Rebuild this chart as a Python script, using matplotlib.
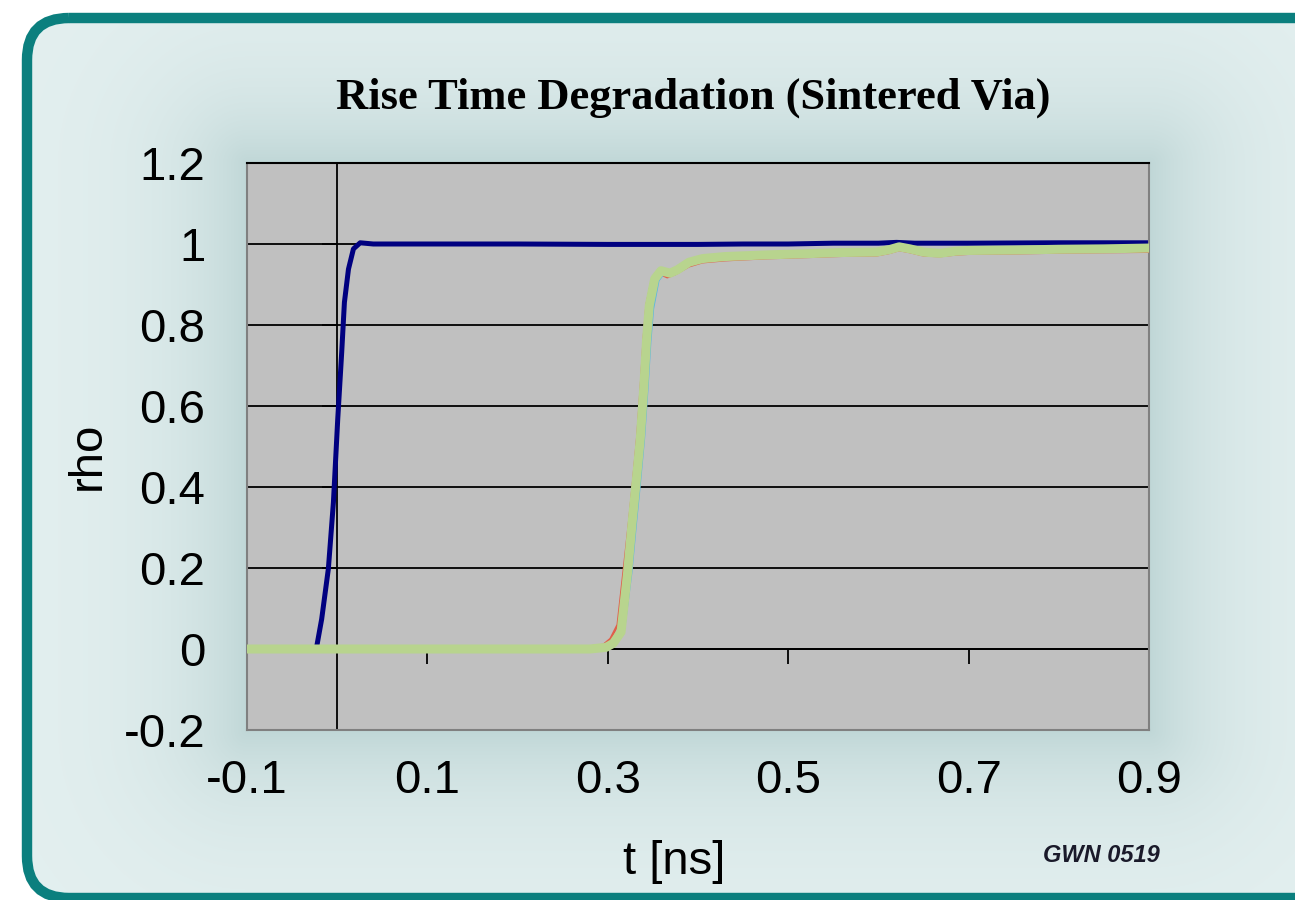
import numpy as np
import matplotlib
matplotlib.use("Agg")
import matplotlib.pyplot as plt
from matplotlib.patches import FancyBboxPatch

plt.rcParams['axes.unicode_minus'] = False

# ---------------- data ----------------
title = "Rise Time Degradation (Sintered Via)"
x_label = "t [ns]"
y_label = "rho"
note = "GWN 0519"

x_ticks = [-0.1, 0.1, 0.3, 0.5, 0.7, 0.9]
x_ticklabels = ["-0.1", "0.1", "0.3", "0.5", "0.7", "0.9"]
y_ticks = [-0.2, 0.0, 0.2, 0.4, 0.6, 0.8, 1.0, 1.2]
y_ticklabels = ["-0.2", "0", "0.2", "0.4", "0.6", "0.8", "1", "1.2"]

# input step (no via)
blue_t = [-0.10, -0.05, -0.030, -0.0228, -0.0172, -0.0098, -0.0042, 0.0006, 0.005,
          0.008, 0.0125, 0.018, 0.0255, 0.04, 0.1, 0.2, 0.3, 0.4, 0.45, 0.5, 0.55,
          0.6, 0.62, 0.64, 0.7, 0.8, 0.9]
blue_rho = [0.0, 0.0, 0.0, 0.005, 0.074, 0.198, 0.362, 0.568, 0.733,
            0.856, 0.938, 0.988, 1.003, 1.0, 1.0, 1.0, 0.999, 0.999, 1.0, 1.0, 1.002,
            1.002, 1.004, 1.002, 1.002, 1.003, 1.003]

# degraded responses (sintered via)
red_t = [-0.10, 0.0, 0.1, 0.2, 0.28, 0.295, 0.303, 0.311, 0.318, 0.324, 0.328, 0.333,
         0.337, 0.340, 0.343, 0.349, 0.356, 0.366, 0.375, 0.39, 0.405, 0.43, 0.475,
         0.52, 0.56, 0.598, 0.612, 0.623, 0.635, 0.65, 0.668, 0.685, 0.70, 0.75,
         0.8, 0.85, 0.9]
red_rho = [0.006, 0.006, 0.006, 0.006, 0.006, 0.01, 0.025, 0.06, 0.20, 0.32, 0.41,
           0.53, 0.66, 0.77, 0.85, 0.912, 0.928, 0.918, 0.926, 0.945, 0.955, 0.96,
           0.965, 0.968, 0.971, 0.972, 0.978, 0.985, 0.980, 0.972, 0.970, 0.974,
           0.976, 0.977, 0.979, 0.980, 0.981]

cyan_t = [-0.10, 0.0, 0.1, 0.2, 0.28, 0.302, 0.310, 0.318, 0.326, 0.331, 0.335, 0.340,
          0.344, 0.347, 0.350, 0.356, 0.363, 0.372, 0.38, 0.39, 0.405, 0.43, 0.475,
          0.52, 0.56, 0.598, 0.612, 0.623, 0.635, 0.65, 0.668, 0.685, 0.70, 0.75,
          0.8, 0.85, 0.9]
cyan_rho = [0.0, 0.0, 0.0, 0.0, 0.0, 0.004, 0.02, 0.05, 0.19, 0.31, 0.40, 0.52,
            0.65, 0.76, 0.84, 0.91, 0.93, 0.926, 0.935, 0.955, 0.965, 0.971, 0.976,
            0.979, 0.982, 0.984, 0.992, 1.0, 0.993, 0.984, 0.980, 0.985, 0.987,
            0.988, 0.990, 0.991, 0.993]

green_t = [-0.10, 0.0, 0.1, 0.2, 0.28, 0.298, 0.306, 0.3147, 0.322, 0.327, 0.331,
           0.336, 0.340, 0.343, 0.346, 0.352, 0.359, 0.369, 0.377, 0.39, 0.405, 0.43,
           0.475, 0.52, 0.56, 0.598, 0.612, 0.623, 0.635, 0.65, 0.668, 0.685, 0.70,
           0.75, 0.8, 0.85, 0.9]
green_rho = [0.0, 0.0, 0.0, 0.0, 0.0, 0.004, 0.014, 0.042, 0.19, 0.313, 0.403,
             0.519, 0.65, 0.765, 0.848, 0.914, 0.934, 0.928, 0.936, 0.955, 0.964, 0.969,
             0.973, 0.976, 0.979, 0.980, 0.986, 0.993, 0.988, 0.980, 0.977, 0.982, 0.984,
             0.985, 0.987, 0.988, 0.990]

# ---------------- figure ----------------
W, H = 1295, 900
fig = plt.figure(figsize=(W / 100, H / 100), dpi=100)
fig.patch.set_facecolor("white")

# plot-area rectangle in pixels
L, R, T, B = 247, 1149, 163, 730

# background with soft halo around the plot area
bg = fig.add_axes([0, 0, 1, 1])
bg.set_xlim(0, W)
bg.set_ylim(H, 0)
bg.axis("off")
yy, xx = np.mgrid[0:H, 0:W]
dx = np.maximum(np.maximum(L - xx, xx - R), 0)
dy = np.maximum(np.maximum(T - yy, yy - B), 0)
d = np.hypot(dx, dy)
shade = np.exp(-d / 75.0)
light = np.array([228, 240, 240]) / 255.0
dark = np.array([192, 215, 215]) / 255.0
img = light[None, None, :] * (1 - shade[..., None]) + dark[None, None, :] * shade[..., None]
box = FancyBboxPatch((27, 18), 1400, 880, boxstyle="round,pad=0,rounding_size=42",
                     fc="none", ec="#0B7F7E", lw=7.5, zorder=3)
bg.add_patch(box)
im = bg.imshow(img, extent=(0, W, H, 0), aspect="auto", zorder=1)
clip = FancyBboxPatch((27, 18), 1400, 880, boxstyle="round,pad=0,rounding_size=42",
                      fc="none", ec="none", transform=bg.transData)
im.set_clip_path(clip)
bg.set_xlim(0, W)
bg.set_ylim(H, 0)

pos = [L / W, 1 - B / H, (R - L) / W, (B - T) / H]

# axis lines crossing at zero, grid, gray face
ax_axis = fig.add_axes(pos)
ax_axis.set_facecolor("#C0C0C0")
ax_axis.set_xlim(-0.1, 0.9)
ax_axis.set_ylim(-0.2, 1.2)
for s in ("top", "right"):
    ax_axis.spines[s].set_visible(False)
ax_axis.spines["left"].set_position(("data", 0))
ax_axis.spines["bottom"].set_position(("data", 0))
for s in ("left", "bottom"):
    ax_axis.spines[s].set_color("black")
    ax_axis.spines[s].set_linewidth(1.3)
ax_axis.set_xticks(x_ticks)
ax_axis.set_yticks(y_ticks)
ax_axis.tick_params(axis="x", direction="out", length=11, width=1.3,
                    labelbottom=False)
ax_axis.tick_params(axis="y", direction="out", length=11, width=1.3,
                    labelleft=False)
ax_axis.yaxis.grid(True, color="black", lw=1.3)
ax_axis.set_axisbelow(True)

# data axes on top
ax = fig.add_axes(pos, sharex=ax_axis, sharey=ax_axis)
ax.patch.set_visible(False)
ax.plot(blue_t, blue_rho, color="#000080", lw=3.6, solid_capstyle="round", zorder=2)
ax.plot(red_t, red_rho, color="#E0604A", lw=1.8, zorder=3)
ax.plot(cyan_t, cyan_rho, color="#5AB8E0", lw=1.8, zorder=3)
ax.plot(green_t, green_rho, color="#B8D48E", lw=6.5, solid_capstyle="round", zorder=4)
ax.set_xlim(-0.1, 0.9)
ax.set_ylim(-0.2, 1.2)
for s in ("left", "bottom", "right"):
    ax.spines[s].set_color("#808080")
    ax.spines[s].set_linewidth(1.5)
ax.spines["top"].set_color("black")
ax.spines["top"].set_linewidth(1.5)
ax.set_xticks(x_ticks)
ax.set_xticklabels(x_ticklabels)
ax.set_yticks(y_ticks)
ax.set_yticklabels(y_ticklabels)
ax.tick_params(axis="both", length=0, labelsize=34, colors="black")
ax.tick_params(axis="x", pad=21)
ax.tick_params(axis="y", pad=30)
for lab in ax.get_xticklabels() + ax.get_yticklabels():
    lab.set_family("Liberation Sans")

fig.text(693 / W, 1 - 98 / H, title, ha="center", va="center",
         family="Liberation Serif", weight="bold", size=32, color="black")
fig.text(674 / W, 1 - 862 / H, x_label, ha="center", va="center",
         family="Liberation Sans", size=34, color="black")
fig.text(88 / W, 1 - 456 / H, y_label, ha="center", va="center", rotation=90,
         family="Liberation Sans", size=34, color="black")
fig.text(1043 / W, 1 - 862 / H, note, ha="left", va="baseline",
         family="Liberation Sans", style="italic", weight="bold", size=17,
         color="#1A1A2A")

fig.savefig("out.png", dpi=100)
